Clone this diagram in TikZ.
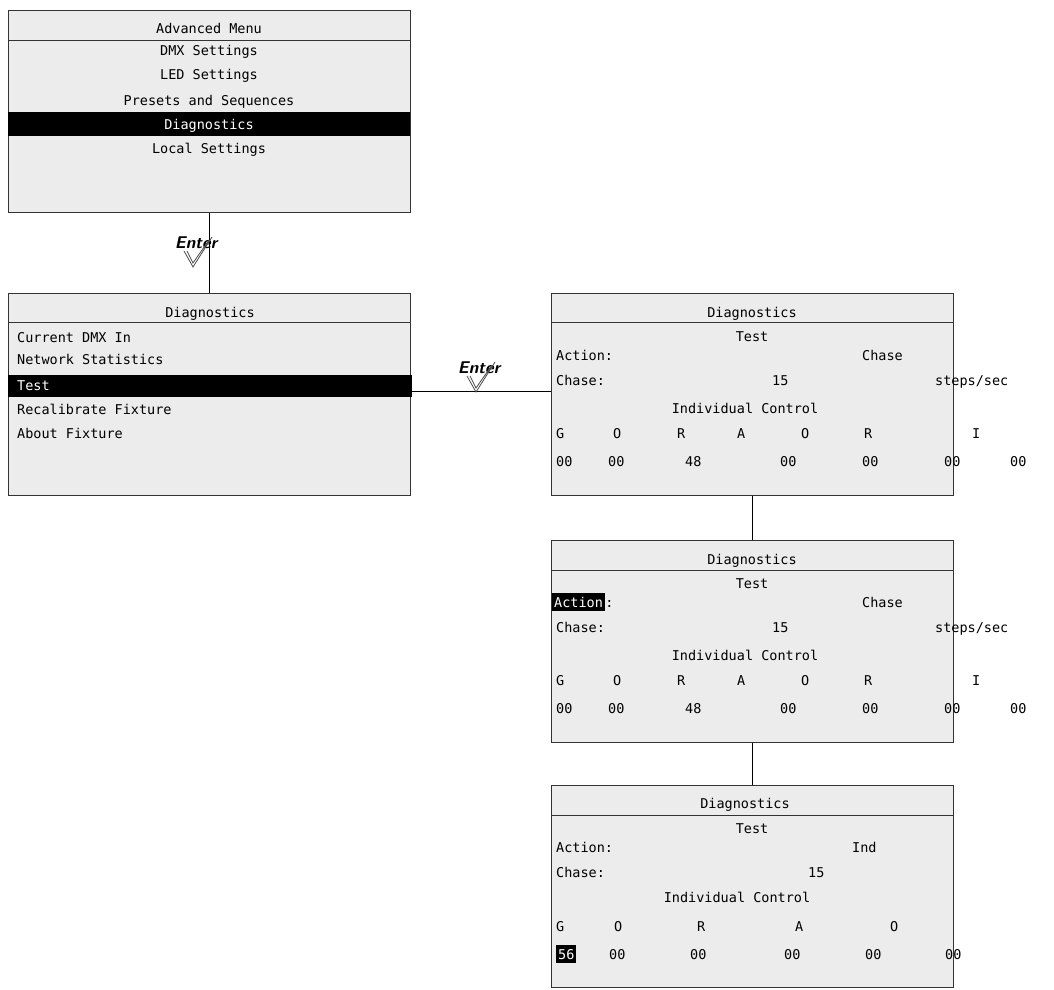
\documentclass[tikz,border=0pt]{standalone}
\usepackage{fontspec}
\setmonofont{DejaVu Sans Mono}
\usetikzlibrary{positioning,calc}
\definecolor{screengray}{RGB}{236,236,236}
\tikzset{
  screen/.style={draw=black!80, fill=screengray, line width=1pt, minimum width=402pt, minimum height=202pt, anchor=north west, inner sep=0pt},
  txt/.style={font=\ttfamily\fontsize{13.5}{15}\selectfont, inner sep=0pt, anchor=base west},
  ctxt/.style={txt, anchor=base},
  hl/.style={txt, fill=black, text=white, inner xsep=2pt, inner ysep=4pt},
  enterlbl/.style={font=\sffamily\bfseries\itshape\fontsize{17}{17}\selectfont, inner sep=0pt}
}
\newcommand{\entermark}[2]{% check mark below the word Enter
  \node[enterlbl] (#2) at (#1) {Enter};
  \draw[black!70, line width=0.8pt] ($(#2)+(-12,8)$) -- ($(#2)+(-3,24)$) -- ($(#2)+(16,-6)$)
        ($(#2)+(-9,8)$) -- ($(#2)+(-3,20)$) -- ($(#2)+(13,-3)$);
}
\begin{document}
\begin{tikzpicture}[x=1pt, y=-1pt]
\useasboundingbox (0,0) rectangle (1054,989);

% Screens
\node[screen] (adv) at (8,10) {};
\node[screen] (diag) at (8,293) {};
\node[screen] (testa) at (551,293) {};
\node[screen] (testb) at (551,540) {};
\node[screen] (testc) at (551,785) {};
\foreach \s/\ty in {adv/40, diag/322, testa/322, testb/570, testc/815}
  \draw[black!80, line width=1pt] (\s.north west |- 0,\ty) -- (\s.north east |- 0,\ty);

% Connectors
\draw[line width=1pt] (adv.south) -- (adv.south |- diag.north);
\draw[line width=1pt] (diag.east |- 0,391) -- (testa.west |- 0,391);
\draw[line width=1pt] (testa.south) -- (testb.north);
\draw[line width=1pt] (testb.south) -- (testc.north);
\entermark{196,243}{entera}
\entermark{479,368}{enterb}

% Advanced menu
\fill (8,112) rectangle (410,136);
\foreach \t/\y [count=\i] in {Advanced Menu/33, DMX Settings/55, LED Settings/79, Presets and Sequences/105, Local Settings/153}
  \node[ctxt] (advt\i) at (209,\y) {\t};
\node[ctxt, text=white] (advsel) at (209,129) {Diagnostics};

% Diagnostics menu
\fill (8,375) rectangle (412,397);
\node[ctxt] (diagt) at (210,317) {Diagnostics};
\foreach \t/\y [count=\i] in {Current DMX In/342, Network Statistics/364, Recalibrate Fixture/414, About Fixture/438}
  \node[txt] (diagi\i) at (17,\y) {\t};
\node[txt, text=white] (diagsel) at (17,390) {Test};

% Test screens A and B
\foreach \s/\dy in {a/0, b/247} {
  \node[ctxt] (title\s) at (752,317+\dy) {Diagnostics};
  \node[ctxt] (test\s) at (752,341+\dy) {Test};
  \node[txt] (chv\s) at (862,360+\dy) {Chase};
  \node[txt] (ch\s) at (556,385+\dy) {Chase:};
  \node[txt] (rate\s) at (772,385+\dy) {15};
  \node[txt] (unit\s) at (935,385+\dy) {steps/sec};
  \node[ctxt] (ind\s) at (745,413+\dy) {Individual Control};
  \foreach \c/\x [count=\i] in {G/556, O/613, R/677, A/737, O/801, R/864, I/972}
    \node[txt] (col\s\i) at (\x,438+\dy) {\c};
  \foreach \v/\x [count=\i] in {00/556, 00/608, 48/685, 00/780, 00/862, 00/944, 00/1010}
    \node[txt] (val\s\i) at (\x,466+\dy) {\v};
}
\node[txt] (acta) at (556,360) {Action:};
\node[hl] (actb) at (552,607) {Action};
\node[txt, anchor=base west] (colonb) at (actb.base east) {:};

% Test screen C
\node[ctxt] (titlec) at (745,808) {Diagnostics};
\node[ctxt] (testc2) at (752,833) {Test};
\node[txt] (actc) at (556,852) {Action:};
\node[txt] (indv) at (852,852) {Ind};
\node[txt] (chc) at (556,877) {Chase:};
\node[txt] (ratec) at (808,877) {15};
\node[ctxt] (indc) at (737,902) {Individual Control};
\foreach \c/\x [count=\i] in {G/556, O/614, R/697, A/795, O/890}
  \node[txt] (colc\i) at (\x,931) {\c};
\node[hl] (sel56) at (556,959) {56};
\foreach \x [count=\i] in {609, 690, 784, 865, 945}
  \node[txt] (zero\i) at (\x,959) {00};
\end{tikzpicture}
\end{document}
